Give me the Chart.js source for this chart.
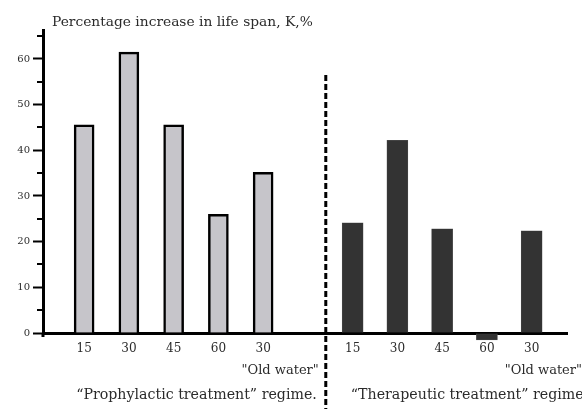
<!DOCTYPE html>
<html>
<head>
<meta charset="utf-8">
<script src="https://cdn.jsdelivr.net/npm/chart.js@4.4.1/dist/chart.umd.min.js"></script>
<style>
  html, body { margin: 0; padding: 0; background: #fff; }
  #wrap { width: 582px; height: 409px; position: relative; }
</style>
</head>
<body>
<div id="wrap"><canvas id="c" width="582" height="409"></canvas></div>
<script>
// ---- data ----
const prophylacticLabels = ['15', '30', '45', '60', '30'];
const therapeuticLabels  = ['15', '30', '45', '60', '30'];
const prophylacticValues = [45.6, 61.5, 45.6, 26.0, 35.2];
const therapeuticValues  = [24.1, 42.2, 22.8, -1.5, 22.4];
const yTickValues = [0, 5, 10, 15, 20, 25, 30, 35, 40, 45, 50, 55, 60, 65];
const titleText = 'Percentage increase in life span, K,%';
const oldWaterText = '"Old water"';
const prophylacticRegime = '\u201CProphylactic treatment\u201D regime.';
const therapeuticRegime = '\u201CTherapeutic treatment\u201D regime';

// slot positions derived from the category order (one empty slot between groups)
const gapSlot = prophylacticLabels.length;
const proSlots = prophylacticLabels.map((_, i) => i);
const theSlots = therapeuticLabels.map((_, i) => i + gapSlot + 1);
const allSlots = proSlots.concat(theSlots);
const allLabels = prophylacticLabels.concat(therapeuticLabels);

const FONT = "'DejaVu Serif', 'Liberation Serif', serif";
const TXT = '#2b2b2b';

const decor = {
  id: 'decor',
  afterDraw(chart) {
    const ctx = chart.ctx;
    const x = chart.scales.x, y = chart.scales.y;
    const area = chart.chartArea;
    ctx.save();
    // minor y ticks
    ctx.strokeStyle = '#000';
    ctx.lineWidth = 2;
    yTickValues.forEach(v => {
      if (v % 10 !== 0) {
        const py = Math.round(y.getPixelForValue(v));
        ctx.beginPath();
        ctx.moveTo(area.left - 6, py);
        ctx.lineTo(area.left, py);
        ctx.stroke();
      }
    });
    // extend y axis slightly below the x axis
    ctx.lineWidth = 3;
    ctx.beginPath();
    ctx.moveTo(area.left, area.bottom);
    ctx.lineTo(area.left, area.bottom + 4);
    ctx.stroke();

    // dashed separator
    const sepX = x.getPixelForValue(gapSlot + 0.4);
    ctx.setLineDash([6, 3]);
    ctx.lineWidth = 3;
    ctx.beginPath();
    ctx.moveTo(sepX, 75);
    ctx.lineTo(sepX, chart.height + 2);
    ctx.stroke();
    ctx.setLineDash([]);

    // title
    ctx.fillStyle = TXT;
    ctx.textBaseline = 'middle';
    ctx.textAlign = 'left';
    ctx.font = '13.8px ' + FONT;
    ctx.fillText(titleText, 52, 22);

    // "Old water" annotations
    ctx.font = '13px ' + FONT;
    ctx.textAlign = 'right';
    ctx.fillText(oldWaterText, sepX - 7, 371);
    ctx.fillText(oldWaterText, chart.width, 371);

    // regime labels
    ctx.font = '14.2px ' + FONT;
    ctx.textAlign = 'right';
    ctx.fillText(prophylacticRegime, sepX - 9, 395);
    ctx.textAlign = 'left';
    ctx.fillText(therapeuticRegime, sepX + 25, 395);
    ctx.restore();
  }
};

new Chart(document.getElementById('c'), {
  type: 'bar',
  data: {
    datasets: [
      {
        label: 'Prophylactic',
        data: prophylacticValues.map((v, i) => ({ x: proSlots[i], y: v })),
        backgroundColor: '#c6c5ca',
        borderColor: '#000',
        borderWidth: 2.5,
        borderSkipped: 'bottom',
        barThickness: 20,
        grouped: false,
        clip: false
      },
      {
        label: 'Therapeutic',
        data: therapeuticValues.map((v, i) => ({ x: theSlots[i], y: v })),
        backgroundColor: '#333333',
        borderColor: '#555',
        borderWidth: 0.5,
        barThickness: 21,
        grouped: false,
        clip: false
      }
    ]
  },
  options: {
    responsive: false,
    animation: false,
    devicePixelRatio: 1,
    layout: { padding: { left: 0, right: 15, top: 30, bottom: 0 } },
    plugins: { legend: { display: false }, tooltip: { enabled: false } },
    scales: {
      x: {
        type: 'linear',
        offset: false,
        min: -0.919,
        max: 10.79,
        afterBuildTicks: s => { s.ticks = allSlots.map(v => ({ value: v })); },
        afterFit: s => { s.height = 76; },
        grid: { display: false, drawTicks: false, offset: false },
        border: { display: true, color: '#000', width: 3 },
        ticks: {
          autoSkip: false,
          maxRotation: 0,
          padding: 9,
          color: TXT,
          font: { family: FONT, size: 12 },
          callback: (v, i) => allLabels[i]
        }
      },
      y: {
        min: 0,
        max: 66.35,
        afterBuildTicks: s => { s.ticks = yTickValues.map(v => ({ value: v })); },
        afterFit: s => { s.width = 43; },
        grid: {
          drawOnChartArea: false,
          drawTicks: true,
          tickLength: 10,
          tickWidth: 2,
          tickColor: c => (c.tick && c.tick.value % 10 === 0) ? '#000' : 'rgba(0,0,0,0)'
        },
        border: { display: true, color: '#000', width: 3 },
        ticks: {
          padding: 3,
          color: TXT,
          font: { family: FONT, size: 10 },
          callback: v => (v % 10 === 0 && v <= 60) ? String(v) : ''
        }
      }
    }
  },
  plugins: [decor]
});
</script>
</body>
</html>
